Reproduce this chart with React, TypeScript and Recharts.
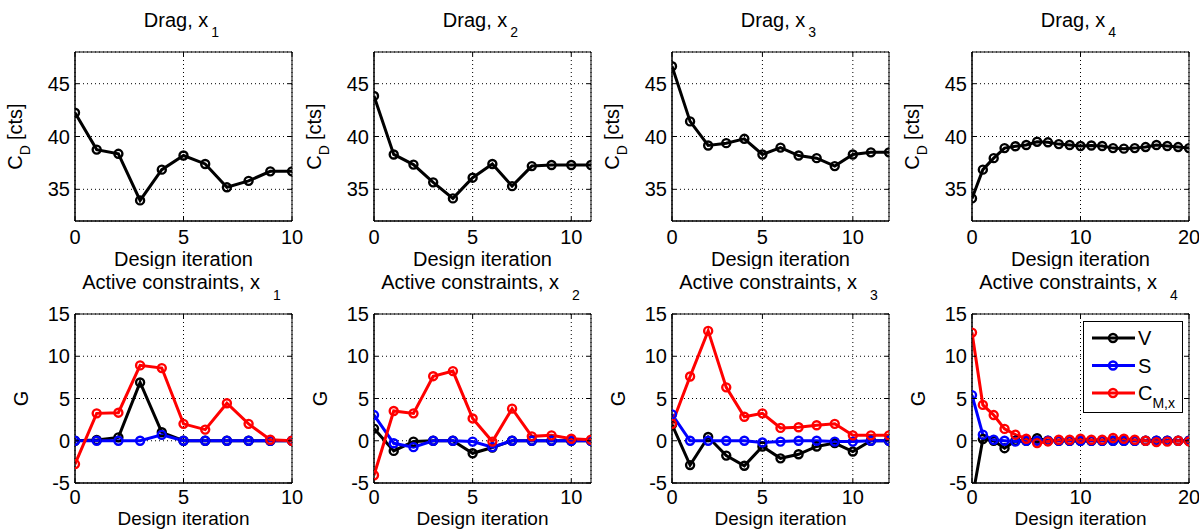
import React from 'react';
import { LineChart, Line, XAxis, YAxis, CartesianGrid, ReferenceArea, Legend } from 'recharts';

const FONT = '"Liberation Sans", Arial, Helvetica, sans-serif';

// Drag coefficient C_D [cts] per design iteration, for each design-variable set
const dragX1 = [42.25, 38.76, 38.36, 33.95, 36.86, 38.2, 37.4, 35.19, 35.8, 36.7, 36.7];
const dragX2 = [43.84, 38.3, 37.34, 35.66, 34.14, 36.1, 37.4, 35.3, 37.2, 37.3, 37.3, 37.3];
const dragX3 = [46.65, 41.43, 39.15, 39.37, 39.78, 38.3, 38.95, 38.2, 37.95, 37.2, 38.3, 38.5, 38.5];
const dragX4 = [34.14, 36.86, 37.95, 38.9, 39.08, 39.2, 39.5, 39.45, 39.28, 39.2, 39.1, 39.15, 39.1, 38.9, 38.85, 38.9, 39.0, 39.2, 39.1, 39.0, 38.9];

// Active constraint values G: volume (V), area (S), pitching moment (C_M,x)
const vX1 = [0, 0.1, 0.4, 6.9, 1.0, 0, 0, 0, 0, 0, 0];
const sX1 = [0, 0, 0, 0, 0.7, 0, 0, 0, 0, 0, 0];
const cX1 = [-2.76, 3.24, 3.32, 8.92, 8.6, 2.0, 1.32, 4.44, 2.0, 0.12, 0];

const vX2 = [1.44, -1.2, -0.1, 0, 0, -1.48, -0.8, 0, 0, 0, 0, 0];
const sX2 = [3.04, -0.3, -0.76, 0, 0, -0.1, -0.76, 0, 0, 0, 0, 0];
const cX2 = [-4.08, 3.52, 3.24, 7.64, 8.24, 2.64, -0.1, 3.8, 0.52, 0.64, 0.24, 0.12];

const vX3 = [1.9, -2.88, 0.44, -1.76, -2.96, -0.68, -2.08, -1.6, -0.68, -0.28, -1.28, 0, 0];
const sX3 = [3.12, 0, 0, 0, 0, -0.2, -0.1, 0, 0, -0.1, -0.1, 0, 0];
const cX3 = [2.0, 7.6, 13.0, 6.32, 2.84, 3.24, 1.52, 1.6, 1.84, 2.0, 0.64, 0.64, 0.64];

const vX4 = [-7, 0.2, 0, -0.88, 0, 0, 0.3, 0, 0, 0, 0, 0, 0, 0, 0, 0, 0, 0, 0, 0, 0];
const sX4 = [5.4, 0.72, 0.12, 0, -0.1, 0, 0, 0, 0, 0, 0, 0, 0, 0, 0, 0, 0, 0, 0, 0, 0];
const cX4 = [12.8, 4.24, 3.04, 1.4, 0.72, 0.24, -0.28, -0.08, 0.12, 0.12, 0.24, 0.12, 0.12, 0.32, 0.24, 0.12, 0, -0.16, -0.1, 0, -0.08];

// Axis ranges and tick labels
const dragDomain: [number, number] = [32, 48];
const dragTicks = [35, 40, 45];
const gDomain: [number, number] = [-5, 15];
const gTicks = [-5, 0, 5, 10, 15];
const xMaxes = [10, 11, 12, 20];
const xTickSets = [[0, 5, 10], [0, 5, 10], [0, 5, 10], [0, 10, 20]];
const setLabels = ['1', '2', '3', '4'];

type SeriesDef = { key: string; label: string; sub?: string; color: string };
const dragSeries: SeriesDef[] = [{ key: 'cd', label: 'C_D', color: '#000000' }];
const constraintSeries: SeriesDef[] = [
  { key: 'V', label: 'V', color: '#000000' },
  { key: 'S', label: 'S', color: '#0000ff' },
  { key: 'C', label: 'C', sub: 'M,x', color: '#ff0000' },
];

const dragData = [dragX1, dragX2, dragX3, dragX4];
const constraintData = [
  [vX1, sX1, cX1],
  [vX2, sX2, cX2],
  [vX3, sX3, cX3],
  [vX4, sX4, cX4],
];

// Layout of the 2x4 grid of axes (plot-area corners in page pixels)
const colLefts = [75, 374, 672, 972];
const rowTops = [52, 314];
const PW = 217;
const PH = 169;
const YW = 70; // room for y tick labels and y label
const MT = 50; // room for the title
const XH = 48; // room for x tick labels and x label
const MR = 24;

const LINE_W = 3;
const DOT_R = 4;
const DOT_W = 2.4;

const XTick = (p: any) => {
  const { x, y, payload, plotH, labelDy } = p;
  return (
    <g>
      <line x1={x} x2={x} y1={y} y2={y - 4} stroke="#000" />
      <line x1={x} x2={x} y1={y - plotH} y2={y - plotH + 4} stroke="#000" />
      <text x={x} y={y + labelDy} textAnchor="middle" fontSize={20} fontFamily={FONT} fill="#000">
        {payload.value}
      </text>
    </g>
  );
};

const YTick = (p: any) => {
  const { x, y, payload, plotW } = p;
  return (
    <g>
      <line x1={x} x2={x + 4} y1={y} y2={y} stroke="#000" />
      <line x1={x + plotW} x2={x + plotW - 4} y1={y} y2={y} stroke="#000" />
      <text x={x - 5} y={y + 7} textAnchor="end" fontSize={20} fontFamily={FONT} fill="#000">
        {payload.value}
      </text>
    </g>
  );
};

function ConstraintLegend(props: any) {
  const payload: any[] = props.payload || [];
  const items = constraintSeries.map((s) => {
    const entry = payload.find((e) => e.dataKey === s.key);
    return { ...s, color: (entry && entry.color) || s.color };
  });
  return (
    <svg width={100} height={92} style={{ display: 'block' }}>
      <rect x={0.5} y={0.5} width={99} height={91} fill="#fff" stroke="#000" />
      {items.map((s, k) => {
        const cy = 17 + k * 27.5;
        return (
          <g key={s.key}>
            <line x1={9} x2={52} y1={cy} y2={cy} stroke={s.color} strokeWidth={LINE_W} />
            <circle cx={30} cy={cy} r={DOT_R} fill="none" stroke={s.color} strokeWidth={DOT_W} />
            <text x={55} y={cy + 7} fontSize={20} fontFamily={FONT} fill="#000">
              {s.label}
              {s.sub ? (
                <tspan fontSize={14} dy={8}>
                  {s.sub}
                </tspan>
              ) : null}
            </text>
          </g>
        );
      })}
    </svg>
  );
}

type PanelProps = {
  col: number;
  row: number;
};

function Panel({ col, row }: PanelProps) {
  const px = colLefts[col];
  const py = rowTops[row];
  const xMax = xMaxes[col];
  const xTicks = xTickSets[col];
  const isDrag = row === 0;
  const series = isDrag ? dragSeries : constraintSeries;
  const yDomain = isDrag ? dragDomain : gDomain;
  const yTicks = isDrag ? dragTicks : gTicks;

  const rows = isDrag
    ? dragData[col].map((v, i) => ({ it: i, cd: v }))
    : constraintData[col][0].map((_, i) => ({
        it: i,
        V: constraintData[col][0][i],
        S: constraintData[col][1][i],
        C: constraintData[col][2][i],
      }));

  const width = YW + PW + MR;
  const height = MT + PH + XH;
  const cx = YW + PW / 2;
  const tickDy = isDrag ? 23 : 21;

  return (
    <div style={{ position: 'absolute', left: px - YW, top: py - MT }}>
      <LineChart width={width} height={height} data={rows} margin={{ top: MT, right: MR, bottom: 0, left: 0 }}>
        <CartesianGrid stroke="#000" strokeDasharray="1 3" strokeWidth={1} />
        <ReferenceArea
          x1={0}
          x2={xMax}
          y1={yDomain[0]}
          y2={yDomain[1]}
          fill="none"
          fillOpacity={0}
          stroke="#000"
          strokeWidth={1}
        />
        <XAxis
          dataKey="it"
          type="number"
          domain={[0, xMax]}
          ticks={xTicks}
          allowDataOverflow
          interval={0}
          height={XH}
          tickSize={0}
          tickMargin={0}
          tickLine={false}
          axisLine={{ stroke: '#000' }}
          tick={(p: any) => <XTick {...p} plotH={PH} labelDy={tickDy} />}
        />
        <YAxis
          type="number"
          domain={yDomain}
          ticks={yTicks}
          allowDataOverflow
          interval={0}
          width={YW}
          tickSize={0}
          tickMargin={0}
          tickLine={false}
          axisLine={{ stroke: '#000' }}
          tick={(p: any) => <YTick {...p} plotW={PW} />}
        />
        {series.map((s) => (
          <Line
            key={s.key}
            dataKey={s.key}
            name={s.label}
            type="linear"
            stroke={s.color}
            strokeWidth={LINE_W}
            dot={{ r: DOT_R, stroke: s.color, strokeWidth: DOT_W, fill: 'none' }}
            activeDot={false}
            isAnimationActive={false}
          />
        ))}
        {!isDrag && col === 3 ? (
          <Legend
            layout="vertical"
            align="center"
            verticalAlign="middle"
            wrapperStyle={{ left: 181, top: 57, width: 100, height: 92, lineHeight: 0 }}
            content={(p: any) => <ConstraintLegend {...p} />}
          />
        ) : null}
        <text x={cx - 2} y={25} textAnchor="middle" fontSize={20} fontFamily={FONT} fill="#000">
          {isDrag ? 'Drag, x' : 'Active constraints, x'}
          <tspan fontSize={14} dx={isDrag ? 3 : 13} dy={isDrag ? 10 : 11}>
            {setLabels[col]}
          </tspan>
        </text>
        <text
          x={cx}
          y={MT + PH + (isDrag ? 45 : 42)}
          textAnchor="middle"
          fontSize={isDrag ? 20 : 19}
          fontFamily={FONT}
          fill="#000"
        >
          Design iteration
        </text>
        {isDrag ? (
          <text
            transform={`translate(16.5, ${MT + PH / 2}) rotate(-90)`}
            textAnchor="middle"
            fontSize={20}
            fontFamily={FONT}
            fill="#000"
          >
            C
            <tspan fontSize={14} dy={8}>
              D
            </tspan>
            <tspan dx={5} dy={-8}>
              [cts]
            </tspan>
          </text>
        ) : (
          <text
            transform={`translate(23, ${MT + PH / 2}) rotate(-90)`}
            textAnchor="middle"
            fontSize={20}
            fontFamily={FONT}
            fill="#000"
          >
            G
          </text>
        )}
      </LineChart>
    </div>
  );
}

export default function App() {
  return (
    <div
      style={{
        position: 'absolute',
        left: 0,
        top: 0,
        width: 1199,
        height: 529,
        overflow: 'hidden',
        background: '#ffffff',
        fontFamily: FONT,
      }}
    >
      {[0, 1].map((row) =>
        [0, 1, 2, 3].map((col) => <Panel key={`${row}-${col}`} row={row} col={col} />)
      )}
    </div>
  );
}
